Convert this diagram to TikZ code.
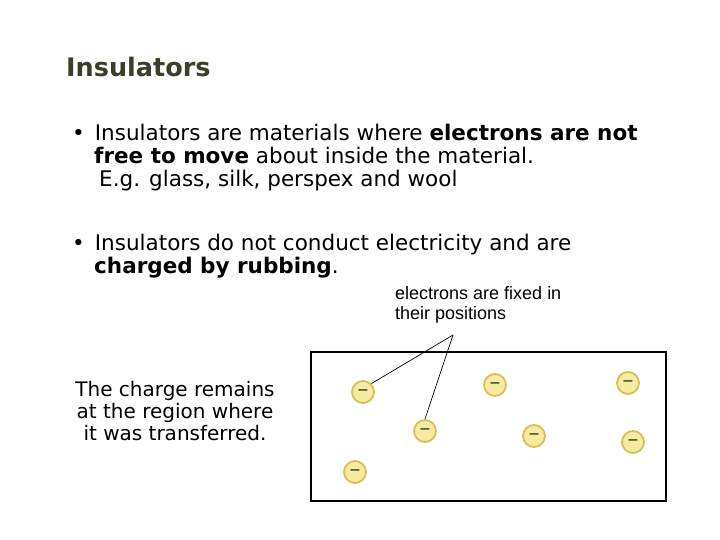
\documentclass[tikz,border=0pt]{standalone}
\usepackage{fontspec}
\setmainfont{DejaVu Sans}
\newfontfamily\arialf{Liberation Sans}
\definecolor{titlec}{HTML}{3D3D2B}
\definecolor{efill}{HTML}{F7EBA0}
\definecolor{eedge}{HTML}{D8BE5E}
\begin{document}
\begin{tikzpicture}[x=1pt,y=-1pt,
 body/.style={anchor=north west,inner sep=0pt,font=\fontsize{21.5}{23}\selectfont,align=left},
 elec/.style={circle,draw=eedge,line width=1.8pt,fill=efill,minimum size=22pt,inner sep=0pt,font=\arialf\fontsize{16}{16}\selectfont},
 lbl/.style={font=\arialf\fontsize{18}{20}\selectfont,align=left,anchor=north west,inner sep=0pt}]
\useasboundingbox (0,0) rectangle (720,540);
\node[anchor=west,inner sep=0pt,font=\bfseries\fontsize{25.5}{30}\selectfont,text=titlec] (title) at (66,67) {Insulators};
\node[body] (b1) at (72,124) {•\hspace{10pt}Insulators are materials where \textbf{electrons are not}\\\hspace{22pt}\textbf{free to move} about inside the material.\\\hspace{27pt}E.g. glass, silk, perspex and wool};
\node[body] (b2) at (72,234) {•\hspace{10pt}Insulators do not conduct electricity and are\\\hspace{22pt}\textbf{charged by rubbing}.};
\node[lbl] (fix) at (395,286) {electrons are fixed in\\their positions};
\draw[line width=1.2pt] (311,352) rectangle (666,501);
\node[elec] (e1) at (363,392) {–};
\node[elec] (e2) at (495,385) {–};
\node[elec] (e3) at (628,383) {–};
\node[elec] (e4) at (425,431) {–};
\node[elec] (e5) at (534,436) {–};
\node[elec] (e6) at (633,442) {–};
\node[elec] (e7) at (355,472) {–};
\coordinate (apex) at (453,335);
\draw[line width=0.7pt] (apex) -- (e1.north east);
\draw[line width=0.7pt] (apex) -- (e4.north);
\node[font=\fontsize{20}{22}\selectfont,align=center] (note) at (175,411) {The charge remains\\at the region where\\it was transferred.};
\end{tikzpicture}
\end{document}
